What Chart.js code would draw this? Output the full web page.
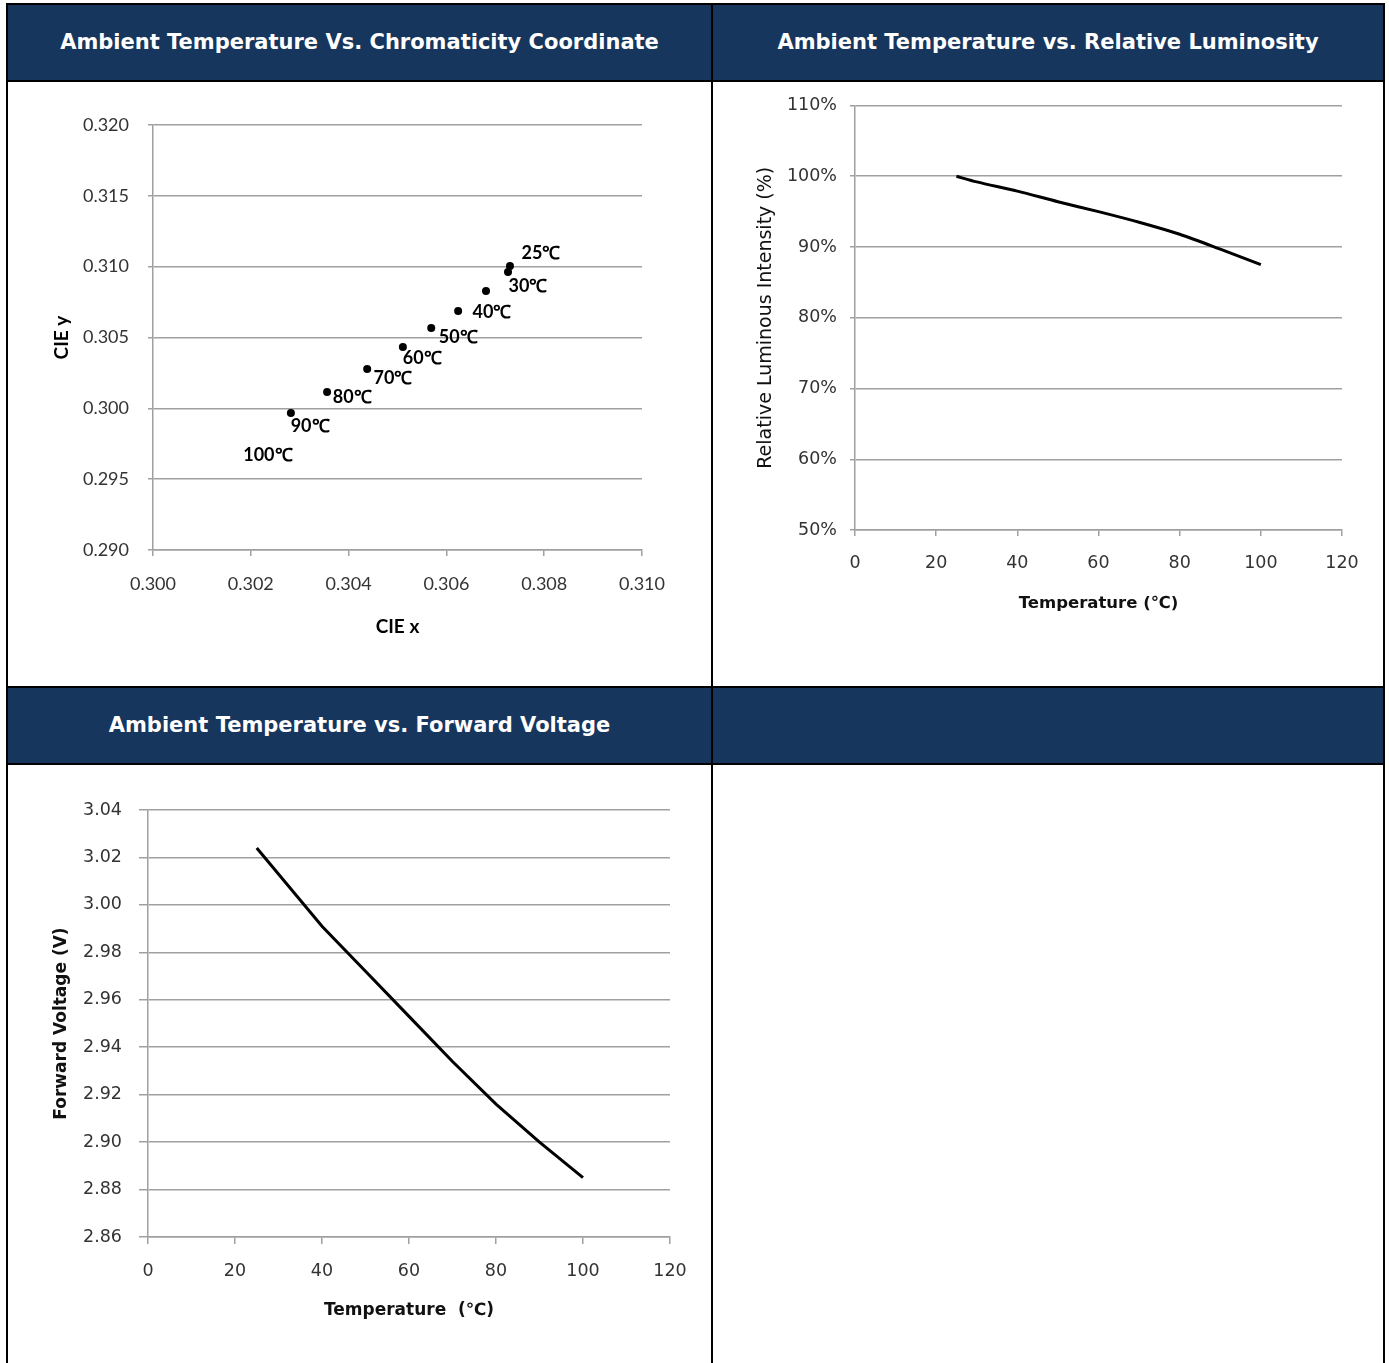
<!DOCTYPE html>
<html>
<head>
<meta charset="utf-8">
<script src="https://cdn.jsdelivr.net/npm/chart.js@4.4.1/dist/chart.umd.min.js"></script>
<style>
	body { margin: 0; background: #fff; width: 1389px; height: 1363px; overflow: hidden; position: relative; }
	#frame { position: absolute; left: 6px; top: 3px; width: 1379px; height: 1420px; background: #000; }
	.cell { position: absolute; background: #fff; }
	.head { background: #17365d; color: #fff; font: bold 21px "DejaVu Sans", Verdana, sans-serif;
		display: flex; align-items: center; justify-content: center; padding-bottom: 2px; box-sizing: border-box; }
	canvas { position: absolute; }
</style>
</head>
<body>
<div id="frame"></div>
<div class="cell head" style="left:8px;top:5px;width:703px;height:75px">Ambient Temperature Vs. Chromaticity Coordinate</div>
<div class="cell head" style="left:713px;top:5px;width:670px;height:75px">Ambient Temperature vs. Relative Luminosity</div>
<div class="cell" style="left:8px;top:82px;width:703px;height:604px"></div>
<div class="cell" style="left:713px;top:82px;width:670px;height:604px"></div>
<div class="cell head" style="left:8px;top:688px;width:703px;height:75px">Ambient Temperature vs. Forward Voltage</div>
<div class="cell head" style="left:713px;top:688px;width:670px;height:75px"></div>
<div class="cell" style="left:8px;top:765px;width:703px;height:700px"></div>
<div class="cell" style="left:713px;top:765px;width:670px;height:700px"></div>

<canvas id="chart-cie" width="703" height="604" style="left:8px;top:82px"></canvas>
<canvas id="chart-lum" width="670" height="604" style="left:713px;top:82px"></canvas>
<canvas id="chart-vf" width="703" height="604" style="left:8px;top:765px"></canvas>

<script>
// Data
const cieTemps = ['25℃', '30℃', '40℃', '50℃', '60℃', '70℃', '80℃', '90℃', '100℃'];
const cieX = [0.3073, 0.30726, 0.30681, 0.30624, 0.30569, 0.30511, 0.30438, 0.30356, 0.30282];
const cieY = [0.31004, 0.30962, 0.30828, 0.30687, 0.30567, 0.30433, 0.30277, 0.30115, 0.29967];
const cieXTicks = [0.300, 0.302, 0.304, 0.306, 0.308, 0.310];
const cieYTicks = [0.290, 0.295, 0.300, 0.305, 0.310, 0.315, 0.320];

const lumTemps = [25, 30, 40, 50, 60, 70, 80, 90, 100];
const lumValues = [100, 99.2, 97.9, 96.4, 95, 93.5, 91.8, 89.7, 87.5];
const lumTicks = [50, 60, 70, 80, 90, 100, 110];

const vfTemps = [25, 40, 50, 60, 70, 80, 90, 100];
const vfValues = [3.024, 2.991, 2.972, 2.953, 2.934, 2.916, 2.9, 2.885];
const vfTicks = [2.86, 2.88, 2.9, 2.92, 2.94, 2.96, 2.98, 3.0, 3.02, 3.04];

const tempTicks = [0, 20, 40, 60, 80, 100, 120];

// label offsets (px) from each point, as placed in the original
const cieLabelOffsets = [[31, -13], [20, 14], [6, 21], [0, 26], [-9, 30], [-10, 31], [-15, 28], [-17, 34], [-23, 42]];

// Shared bits
const GRID = '#a0a0a0';
const TICK_COLOR = '#333';
const VERDANA = '"DejaVu Sans", Verdana, sans-serif';
const CALIBRI = 'Lato, "Open Sans", sans-serif';

const fixTicks = (arr) => (scale) => {
	scale.ticks = arr.map((v) => ({ value: v }));
};
const pairs = (xs, ys) => xs.map((x, i) => ({ x: x, y: ys[i] }));

Chart.defaults.animation = false;
Chart.defaults.plugins.legend.display = false;
Chart.defaults.plugins.tooltip.enabled = false;

// Chromaticity scatter
!(function () {
	const ctx = document.getElementById('chart-cie');

	const labelPlugin = {
		id: 'cieLabels',
		afterDatasetsDraw(chart) {
			const c = chart.ctx;
			const meta = chart.getDatasetMeta(0);
			c.save();
			c.font = 'bold 18px ' + CALIBRI;
			c.fillStyle = '#000';
			c.textAlign = 'center';
			c.textBaseline = 'middle';
			meta.data.forEach((pt, i) => {
				const off = cieLabelOffsets[i];
				c.fillText(cieTemps[i], pt.x + off[0], pt.y + off[1]);
			});
			c.restore();
		},
	};

	new Chart(ctx, {
		type: 'scatter',
		data: {
			datasets: [
				{
					data: pairs(cieX, cieY),
					pointRadius: 4,
					pointBackgroundColor: '#000',
					pointBorderWidth: 0,
				},
			],
		},
		options: {
			responsive: false,
			layout: { padding: { top: 43, right: 69, bottom: 0, left: 0 } },
			scales: {
				x: {
					type: 'linear',
					min: 0.3,
					max: 0.31,
					afterBuildTicks: fixTicks(cieXTicks),
					afterFit: (s) => { s.height = 136; },
					grid: { drawOnChartArea: false, color: GRID, lineWidth: 1.5, tickLength: 6 },
					border: { color: GRID, width: 1.5 },
					ticks: {
						padding: 17,
						color: TICK_COLOR,
						font: { family: CALIBRI, size: 18 },
						maxRotation: 0,
						callback: (v) => v.toFixed(3),
					},
					title: {
						display: true,
						text: 'CIE x',
						color: '#000',
						font: { family: CALIBRI, size: 19, weight: 'bold' },
						padding: { top: 0, bottom: 47.6 },
					},
				},
				y: {
					min: 0.29,
					max: 0.32,
					afterBuildTicks: fixTicks(cieYTicks),
					afterFit: (s) => { s.width = 145; },
					grid: { color: GRID, lineWidth: 1.5, tickLength: 5 },
					border: { color: GRID, width: 1.5 },
					ticks: {
						padding: 19,
						color: TICK_COLOR,
						font: { family: CALIBRI, size: 18 },
						callback: (v) => v.toFixed(3),
					},
					title: {
						display: true,
						text: 'CIE y',
						color: '#000',
						font: { family: CALIBRI, size: 19, weight: 'bold' },
						padding: { top: 42.6, bottom: 0 },
					},
				},
			},
		},
		plugins: [labelPlugin],
	});
})();

// Relative luminosity
!(function () {
	const ctx = document.getElementById('chart-lum');

	new Chart(ctx, {
		type: 'line',
		data: {
			datasets: [
				{
					data: pairs(lumTemps, lumValues),
					borderColor: '#000',
					borderWidth: 3,
					pointRadius: 0,
					tension: 0.3,
				},
			],
		},
		options: {
			responsive: false,
			layout: { padding: { top: 21, right: 41, bottom: 0, left: 0 } },
			scales: {
				x: {
					type: 'linear',
					min: 0,
					max: 120,
					afterBuildTicks: fixTicks(tempTicks),
					afterFit: (s) => { s.height = 156; },
					grid: { drawOnChartArea: false, color: GRID, lineWidth: 1.5, tickLength: 6 },
					border: { color: GRID, width: 1.5 },
					ticks: {
						padding: 16.8,
						color: TICK_COLOR,
						font: { family: VERDANA, size: 17.5 },
						maxRotation: 0,
					},
					title: {
						display: true,
						text: 'Temperature (℃)',
						color: '#111',
						font: { family: VERDANA, size: 16.5, weight: 'bold' },
						padding: { top: 0, bottom: 72.1 },
					},
				},
				y: {
					min: 50,
					max: 110,
					afterBuildTicks: fixTicks(lumTicks),
					afterFit: (s) => { s.width = 142; },
					grid: { color: GRID, lineWidth: 1.5, tickLength: 5 },
					border: { color: GRID, width: 1.5 },
					ticks: {
						padding: 13,
						color: TICK_COLOR,
						font: { family: VERDANA, size: 17.5 },
						callback: (v) => v + '%',
					},
					title: {
						display: true,
						text: 'Relative Luminous Intensity (%)',
						color: '#111',
						font: { family: VERDANA, size: 19 },
						padding: { top: 41.6, bottom: 0 },
					},
				},
			},
		},
	});
})();

// Forward voltage
!(function () {
	const ctx = document.getElementById('chart-vf');

	new Chart(ctx, {
		type: 'line',
		data: {
			datasets: [
				{
					data: pairs(vfTemps, vfValues),
					borderColor: '#000',
					borderWidth: 3,
					pointRadius: 0,
					tension: 0,
				},
			],
		},
		options: {
			responsive: false,
			layout: { padding: { top: 45, right: 41, bottom: 0, left: 0 } },
			scales: {
				x: {
					type: 'linear',
					min: 0,
					max: 120,
					afterBuildTicks: fixTicks(tempTicks),
					afterFit: (s) => { s.height = 132; },
					grid: { drawOnChartArea: false, color: GRID, lineWidth: 1.5, tickLength: 7 },
					border: { color: GRID, width: 1.5 },
					ticks: {
						padding: 16.8,
						color: TICK_COLOR,
						font: { family: VERDANA, size: 17.5 },
						maxRotation: 0,
					},
					title: {
						display: true,
						text: 'Temperature  (℃)',
						color: '#111',
						font: { family: VERDANA, size: 17, weight: 'bold' },
						padding: { top: 0, bottom: 47.8 },
					},
				},
				y: {
					min: 2.86,
					max: 3.04,
					afterBuildTicks: fixTicks(vfTicks),
					afterFit: (s) => { s.width = 140; },
					grid: { color: GRID, lineWidth: 1.5, tickLength: 9 },
					border: { color: GRID, width: 1.5 },
					ticks: {
						padding: 17,
						color: TICK_COLOR,
						font: { family: VERDANA, size: 17.5 },
						callback: (v) => v.toFixed(2),
					},
					title: {
						display: true,
						text: 'Forward Voltage (V)',
						color: '#111',
						font: { family: VERDANA, size: 17, weight: 'bold' },
						padding: { top: 43.8, bottom: 0 },
					},
				},
			},
		},
	});
})();
</script>
</body>
</html>
